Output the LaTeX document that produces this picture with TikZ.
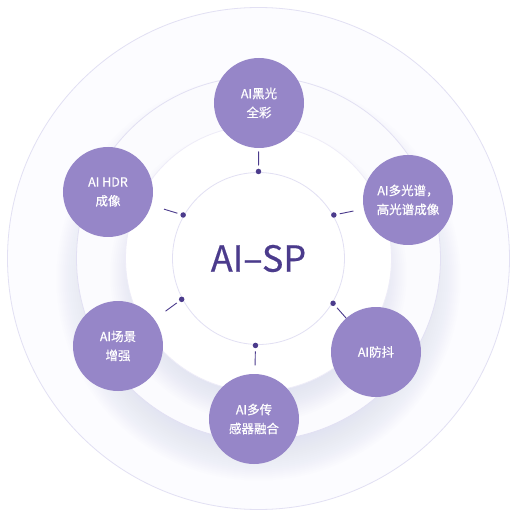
\documentclass[tikz,border=0pt]{standalone}
\usepackage{fontspec}
\setmainfont{Noto Sans CJK SC}
\newfontfamily\satfont{Noto Sans CJK SC}[FakeBold=0.5]
\newfontfamily\corefont{Noto Sans CJK SC}[FakeBold=0.4]
\usetikzlibrary{calc}
\definecolor{satfill}{HTML}{9686C8}
\definecolor{darkpur}{HTML}{4B3B8C}
\definecolor{ringline}{HTML}{E2E0F3}
\definecolor{glowc}{HTML}{D0D4F2}
\definecolor{ringfill}{HTML}{FBFBFE}
\definecolor{outerfill}{HTML}{FCFCFF}

\begin{document}
\begin{tikzpicture}[x=1pt,y=1pt,
    sat/.style={circle,fill=satfill,minimum size=90pt,inner sep=0pt,text=white,align=center,font=\satfont\fontsize{12.5}{19}\selectfont},
    dot/.style={circle,fill=darkpur,minimum size=5.5pt,inner sep=0pt},
    tick/.style={draw=darkpur,line width=0.9pt},
    ring/.style={draw=ringline,line width=0.8pt}]
    \useasboundingbox (-258.5,-263.5) rectangle (258.5,258.5);
    \fill[white] (-258.5,-263.5) rectangle (258.5,258.5);
    % rings and their glow
    \filldraw[ring,fill=outerfill] (0,0) circle (251);
    \foreach \d in {0,2,...,44}
        \fill[glowc,opacity=0.03] (0,-20) circle (202-\d);
    \filldraw[ring,fill=ringfill] (0,0) circle (182);
    \foreach \d in {0,2,...,34}
        \fill[glowc,opacity=0.04] (0,-16) circle (148-\d);
    \filldraw[ring,draw=ringline!60,fill=white] (0,0) circle (133);
    \draw[ring] (0,0) circle (86);
    \node[text=darkpur,font=\corefont\fontsize{36}{40}\selectfont] (core) at (0,0) {AI–SP};
    % satellites
    \node[sat] (s1) at (0.5,155.5) {AI黑光\\全彩};
    \node[sat] (s2) at (-150.5,66.5) {AI HDR\\成像};
    \node[sat] (s3) at (149.5,58.5) {AI多光谱，\\高光谱成像};
    \node[sat] (s4) at (-140.5,-87.5) {AI场景\\增强};
    \node[sat] (s5) at (117.5,-93.5) {AI防抖};
    \node[sat] (s6) at (-4.5,-160.5) {AI多传\\感器融合};
    % dots and ticks
    \node[dot] (d1) at (90:87) {};
    \node[dot] (d2) at (150:87) {};
    \node[dot] (d3) at (30:87) {};
    \node[dot] (d4) at (208:87) {};
    \node[dot] (d5) at (329:87) {};
    \node[dot] (d6) at (268:87) {};
    \foreach \i in {1,...,6}
        \draw[tick] ($(d\i)!6pt!(s\i)$) -- ($(d\i)!20pt!(s\i)$);
\end{tikzpicture}
\end{document}
